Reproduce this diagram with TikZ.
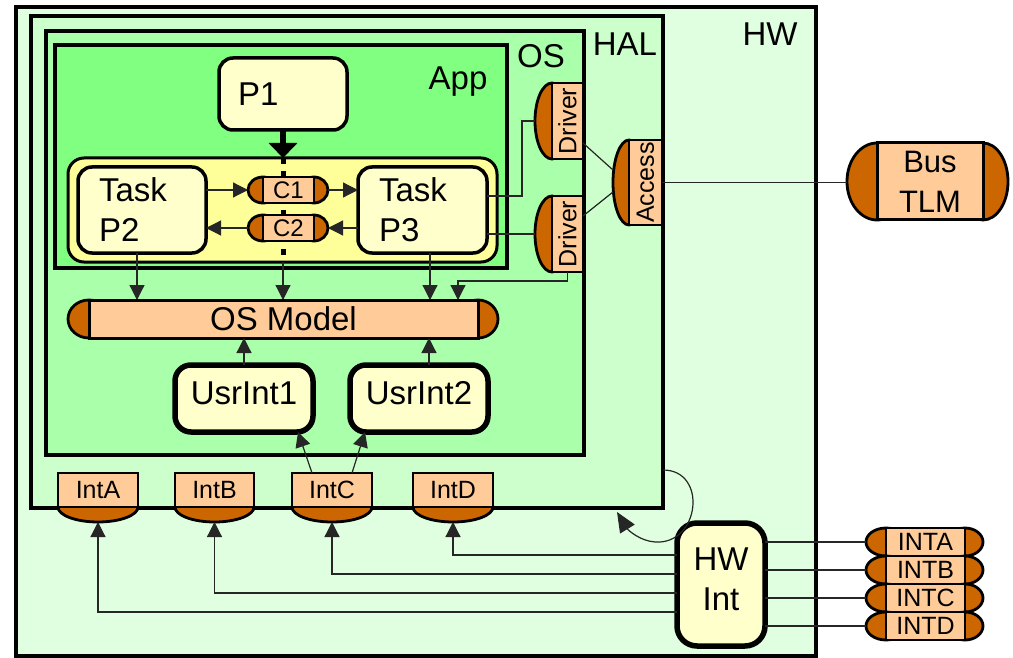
\documentclass[tikz,border=0pt]{standalone}
\usepackage{fontspec}
\setmainfont{Liberation Sans}
\usetikzlibrary{arrows.meta,shapes.geometric,calc}
\definecolor{hwc}{HTML}{E0FFE0}
\definecolor{halc}{HTML}{CCFFCC}
\definecolor{osc}{HTML}{AAFFAA}
\definecolor{appc}{HTML}{80FF80}
\definecolor{grpc}{HTML}{FFFF99}
\definecolor{boxc}{HTML}{FFFFCC}
\definecolor{peach}{HTML}{FFCC99}
\definecolor{rust}{HTML}{CC6600}
\tikzset{
  every node/.style={inner sep=0pt, outer sep=0pt},
  bigf/.style={font=\fontsize{33pt}{40pt}\selectfont},
  midf/.style={font=\fontsize{31pt}{40pt}\selectfont},
  smallf/.style={font=\fontsize{25pt}{30pt}\selectfont},
  capf/.style={font=\fontsize{24pt}{28pt}\selectfont},
  layer/.style={draw, line width=4.5pt},
  rbox/.style={draw, fill=boxc, rounded corners=14pt, line width=3.5pt},
  ubox/.style={draw, fill=boxc, rounded corners=16pt, line width=5.5pt},
  port/.style={draw, fill=peach, line width=2.8pt},
  portend/.style={ellipse, draw, fill=rust, line width=2.8pt},
  conn/.style={line width=1.2pt, draw=black!85},
  arr/.style={conn, -{Triangle[length=15pt,width=15pt]}},
}
\begin{document}
\begin{tikzpicture}[x=1pt,y=-1pt]
\useasboundingbox (0,0) rectangle (1013,658);
\fill[white] (0,0) rectangle (1013,658);
% containers
\node[layer, fill=hwc, minimum width=800pt, minimum height=649pt] (hw) at (416,331.5) {};
\node[layer, fill=halc, minimum width=632pt, minimum height=492pt] (hal) at (347,262) {};
\node[layer, fill=osc, minimum width=538pt, minimum height=424pt] (os) at (315,243) {};
\node[draw, line width=3.5pt, fill=appc, minimum width=452pt, minimum height=223pt] (app) at (281,156.5) {};
\node[bigf, anchor=base] (hwl) at (770,46) {HW};
\node[bigf, anchor=base] (hall) at (625,56) {HAL};
\node[bigf, anchor=base] (osl) at (541,68) {OS};
\node[bigf, anchor=base] (appl) at (458,90) {App};
% group and processes
\node[draw, fill=grpc, rounded corners=16pt, line width=3pt, minimum width=429pt, minimum height=104pt] (grp) at (282.5,210) {};
\node[rbox, bigf, minimum height=72pt, inner xsep=19pt, text width=90pt, align=left] (p1) at (283,94) {P1};
\node[rbox, bigf, minimum height=86pt, inner xsep=21pt, text width=86pt, align=left] (p2) at (142,210) {Task\\P2};
\node[rbox, bigf, minimum height=86pt, inner xsep=21pt, text width=87pt, align=left] (p3) at (422.5,210) {Task\\P3};
% P1 channel line
\draw[line width=5.5pt, -{Triangle[length=15pt,width=28pt]}] (p1.south) -- (p1.south |- grp.north);
\draw[line width=5pt, dash pattern=on 6pt off 7pt] (p1.south |- grp.north) -- (p1.south |- grp.south);
\draw[arr] (p1.south |- grp.south) -- (p1.south |- 0,300);
% channels
\node[portend, minimum width=30pt, minimum height=26pt] (c1l) at (263,190) {};
\node[portend, minimum width=28pt, minimum height=26pt] (c1r) at (314,190) {};
\node[port, capf, minimum width=51pt, minimum height=26pt] (c1) at (288.5,190) {C1};
\node[portend, minimum width=30pt, minimum height=26pt] (c2l) at (263,228) {};
\node[portend, minimum width=28pt, minimum height=26pt] (c2r) at (314,228) {};
\node[port, capf, minimum width=51pt, minimum height=26pt] (c2) at (288.5,228) {C2};
% OS model
\node[portend, minimum width=42pt, minimum height=38pt] (osml) at (89,319) {};
\node[portend, minimum width=40pt, minimum height=38pt] (osmr) at (478,319) {};
\node[port, bigf, line width=3pt, minimum width=389pt, minimum height=38pt] (osm) at (283.5,319) {OS Model};
% user interrupts
\node[ubox, bigf, minimum width=138pt, minimum height=67pt, text height=24pt, text depth=12pt] (usr1) at (244,398.5) {UsrInt1};
\node[ubox, bigf, minimum width=138pt, minimum height=67pt, text height=24pt, text depth=12pt] (usr2) at (419,398.5) {UsrInt2};
% drivers and access
\node[portend, minimum width=34pt, minimum height=76pt] (d1e) at (552,121) {};
\node[port, smallf, rotate=90, minimum width=76pt, minimum height=31pt] (d1) at (567.5,121) {Driver};
\node[portend, minimum width=34pt, minimum height=76pt] (d2e) at (552,234) {};
\node[port, smallf, rotate=90, minimum width=76pt, minimum height=31pt] (d2) at (567.5,234) {Driver};
\node[portend, minimum width=32pt, minimum height=85pt] (acce) at (629,182.5) {};
\node[port, smallf, rotate=90, minimum width=85pt, minimum height=33pt] (acc) at (645.5,182.5) {Access};
% interrupt ports on HAL
\node[portend, minimum width=80pt, minimum height=30pt] (intae) at (98,507) {};
\node[port, smallf, minimum width=80pt, minimum height=34pt] (inta) at (98,490) {IntA};
\node[portend, minimum width=79pt, minimum height=30pt] (intbe) at (214.5,507) {};
\node[port, smallf, minimum width=79pt, minimum height=34pt] (intb) at (214.5,490) {IntB};
\node[portend, minimum width=80pt, minimum height=30pt] (intce) at (332,507) {};
\node[port, smallf, minimum width=80pt, minimum height=34pt] (intc) at (332,490) {IntC};
\node[portend, minimum width=80pt, minimum height=30pt] (intde) at (453,507) {};
\node[port, smallf, minimum width=80pt, minimum height=34pt] (intd) at (453,490) {IntD};
% bus TLM
\node[portend, minimum width=60pt, minimum height=77pt] (busl) at (877,181.5) {};
\node[portend, minimum width=50pt, minimum height=77pt] (busr) at (983,181.5) {};
\node[port, midf, line width=3pt, minimum width=106pt, minimum height=77pt, align=center] (bus) at (930,181.5) {Bus\\TLM};
% HW interrupt controller
\node[ubox, bigf, rounded corners=20pt, minimum width=88pt, minimum height=123pt, align=center, text depth=11pt] (hwint) at (721,584.5) {HW\\Int};
% external interrupt lines
\foreach \n/\c/\t in {ea/542/INTA, eb/570/INTB, ec/598/INTC, ed/626/INTD}{
  \node[portend, minimum width=40pt, minimum height=28pt] (\n l) at (886,\c) {};
  \node[portend, minimum width=36pt, minimum height=28pt] (\n r) at (965,\c) {};
  \node[port, smallf, minimum width=79pt, minimum height=28pt] (\n) at (925.5,\c) {\t};
}
% connectors inside application
\draw[arr] (p2.east |- c1l.west) -- (c1l.west);
\draw[arr] (c1r.east) -- (c1r.east -| p3.west);
\draw[arr] (p3.west |- c2r.east) -- (c2r.east);
\draw[arr] (c2l.west) -- (c2l.west -| p2.east);
\draw[arr] ([xshift=-5pt]p2.south) -- ([xshift=-5pt]p2.south |- osm.north);
\draw[arr] ([xshift=7.5pt]p3.south) -- ([xshift=7.5pt]p3.south |- osm.north);
\draw[arr] (usr1.north) -- (usr1.north |- osm.south);
\draw[arr] ([xshift=10pt]usr2.north) -- ([xshift=10pt]usr2.north |- osm.south);
% drivers
\draw[conn] ([yshift=14pt]p3.east) -- ++(35,0) |- (d1e.west);
\draw[conn] (p3.east |- d2e.west) -- (d2e.west);
\draw[arr] (d2.west) -- ++(0,9) -| ([xshift=174.5pt]osm.north);
\draw[conn] ([yshift=-22pt]d1.south) -- ([yshift=12.5pt]acce.west);
\draw[conn] ([yshift=18pt]d2.south) -- ([yshift=-9.5pt]acce.west);
\draw[conn] (acc.south) -- (acc.south -| busl.west);
% interrupts
\draw[arr] ([xshift=-20pt]intc.north) -- ([xshift=54pt]usr1.south);
\draw[arr] ([xshift=20pt]intc.north) -- ([xshift=-54pt]usr2.south);
\draw[arr] ([yshift=29.5pt]hwint.west) -| (intde.south);
\draw[arr] ([yshift=10.5pt]hwint.west) -| (intce.south);
\draw[arr] ([yshift=-8.5pt]hwint.west) -| (intbe.south);
\draw[arr] ([yshift=-27.5pt]hwint.west) -| (intae.south);
\foreach \n in {ea,eb,ec,ed}{
  \draw[conn] (hwint.east |- \n l.west) -- (\n l.west);
}
% loop on HAL
\draw[conn, -{Triangle[length=20pt,width=17pt]}] ([yshift=38pt]hal.south east) .. controls (708,470) and (700,545) .. (655,542) .. controls (640,541) and (628,530) .. ([xshift=-46pt,yshift=-4pt]hal.south east);
\end{tikzpicture}
\end{document}
